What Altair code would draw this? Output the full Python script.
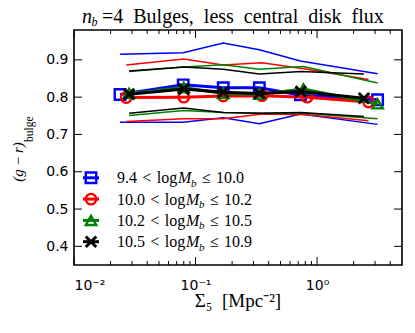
import altair as alt
import pandas as pd

# ---------------- data ----------------
series = ["9.4-10.0", "10.0-10.2", "10.2-10.5", "10.5-10.9"]
colors = ["#0000ff", "#ff0000", "#008000", "#000000"]
shapes = ["square", "circle", "triangle-up", "M-1,-1L1,1M-1,1L1,-1"]

x_blue = [0.0239, 0.0792, 0.169, 0.335, 0.730, 3.15]
x_red = [0.0269, 0.0800, 0.169, 0.352, 0.828, 2.65]
x_green = [0.0284, 0.0800, 0.169, 0.335, 0.773, 3.15]
x_black = [0.0284, 0.0800, 0.169, 0.335, 0.735, 2.43]

blue_hi = [0.915, 0.919, 0.945, 0.927, 0.897, 0.863]
blue_mid = [0.807, 0.833, 0.825, 0.825, 0.806, 0.793]
blue_lo = [0.733, 0.733, 0.745, 0.729, 0.755, 0.727]

red_hi = [0.886, 0.902, 0.886, 0.892, 0.875, 0.847]
red_mid = [0.799, 0.800, 0.803, 0.804, 0.800, 0.787]
red_lo = [0.735, 0.742, 0.742, 0.755, 0.753, 0.737]

green_hi = [0.869, 0.881, 0.887, 0.875, 0.882, 0.838]
green_mid = [0.810, 0.826, 0.810, 0.808, 0.822, 0.782]
green_lo = [0.751, 0.764, 0.759, 0.757, 0.757, 0.742]

black_hi = [0.870, 0.881, 0.875, 0.862, 0.869, 0.862]
black_mid = [0.808, 0.822, 0.813, 0.810, 0.815, 0.797]
black_lo = [0.757, 0.771, 0.759, 0.757, 0.759, 0.748]

SP = "\u2002"   # en space (SVG collapses ordinary double spaces)
S3 = "\u2004"   # three-per-em space
TH = "\u2009"   # thin space
legend_pre = ["9.4" + S3 + "<" + S3 + "log", "10.0" + S3 + "<" + S3 + "log",
              "10.2" + S3 + "<" + S3 + "log", "10.5" + S3 + "<" + S3 + "log"]
legend_post = ["≤" + S3 + "10.0", "≤" + S3 + "10.2",
               "≤" + S3 + "10.5", "≤" + S3 + "10.9"]
title_rest = SP.join(["=4", "Bulges,", "less", "central", "disk", "flux"])
x_title = "Σ₅" + SP + "[Mpc⁻²]"
y_title = "(g" + TH + "−" + TH + "r)"

x_major = [0.01, 0.1, 1.0]
x_minor = [0.02, 0.03, 0.04, 0.05, 0.06, 0.07, 0.08, 0.09,
           0.2, 0.3, 0.4, 0.5, 0.6, 0.7, 0.8, 0.9, 2.0, 3.0, 4.0]
y_major = [0.4, 0.5, 0.6, 0.7, 0.8, 0.9]

# ---------------- layout ----------------
W, H = 328, 235
SERIF = "Liberation Serif"
SANS = "DejaVu Sans"

xs = alt.Scale(type="log", domain=[0.01, 5], nice=False)
ys = alt.Scale(domain=[0.35, 0.98], nice=False, zero=False)

all_x = [x_blue, x_red, x_green, x_black]
all_hi = [blue_hi, red_hi, green_hi, black_hi]
all_mid = [blue_mid, red_mid, green_mid, black_mid]
all_lo = [blue_lo, red_lo, green_lo, black_lo]

layers = []

# axes (labels only) + inward tick marks on all four sides
maj = pd.DataFrame({"v": x_major})
mnr = pd.DataFrame({"v": x_minor})
yt = pd.DataFrame({"v": y_major})

base_x = alt.Chart(maj).mark_point(opacity=0).encode(
    x=alt.X("v:Q", scale=xs, axis=alt.Axis(
        values=x_major, ticks=False, domain=False, grid=False, title=None,
        labelExpr="datum.value < 0.05 ? '10⁻²' : (datum.value < 0.5 ? '10⁻¹' : '10⁰')",
        labelFont=SANS, labelFontSize=14, labelPadding=13, labelColor="black")),
)
base_y = alt.Chart(yt).mark_point(opacity=0).encode(
    y=alt.Y("v:Q", scale=ys, axis=alt.Axis(
        values=y_major, ticks=False, domain=False, grid=False, title=None,
        format=".1f", labelFont=SANS, labelFontSize=14, labelPadding=6,
        labelColor="black")),
)
layers += [base_x, base_y]

for df, ln in [(maj, 8), (mnr, 4)]:
    layers.append(alt.Chart(df).mark_rule(color="black", strokeWidth=1).encode(
        x=alt.X("v:Q", scale=xs), y=alt.value(H), y2=alt.value(H - ln)))
    layers.append(alt.Chart(df).mark_rule(color="black", strokeWidth=1).encode(
        x=alt.X("v:Q", scale=xs), y=alt.value(0), y2=alt.value(ln)))
layers.append(alt.Chart(yt).mark_rule(color="black", strokeWidth=1).encode(
    y=alt.Y("v:Q", scale=ys), x=alt.value(0), x2=alt.value(8)))
layers.append(alt.Chart(yt).mark_rule(color="black", strokeWidth=1).encode(
    y=alt.Y("v:Q", scale=ys), x=alt.value(W), x2=alt.value(W - 8)))

# data series
for i in range(4):
    rows = []
    for band, vals in (("hi", all_hi[i]), ("lo", all_lo[i]), ("mid", all_mid[i])):
        for xv, yv in zip(all_x[i], vals):
            rows.append({"x": xv, "y": yv, "band": band})
    df = pd.DataFrame(rows)
    enc = dict(x=alt.X("x:Q", scale=xs), y=alt.Y("y:Q", scale=ys))
    layers.append(alt.Chart(df).transform_filter("datum.band != 'mid'")
                  .mark_line(color=colors[i], strokeWidth=1.5)
                  .encode(detail="band:N", **enc))
    layers.append(alt.Chart(df).transform_filter("datum.band == 'mid'")
                  .mark_line(color=colors[i], strokeWidth=3).encode(**enc))
    layers.append(alt.Chart(df).transform_filter("datum.band == 'mid'")
                  .mark_point(shape=shapes[i], filled=False, size=110,
                              strokeWidth=3 if i == 3 else 2.4, color=colors[i],
                              opacity=1)
                  .encode(**enc))

one = alt.Data(values=[{}])


def txt(s, x, y, size, font=SERIF, style="normal", angle=0, align="left"):
    return alt.Chart(one).mark_text(
        text=s, font=font, fontSize=size, fontStyle=style, angle=angle,
        align=align, baseline="alphabetic", color="black").encode(
        x=alt.value(x), y=alt.value(y))


# legend
row_y = [147.8, 169.1, 190.4, 211.7]
for i in range(4):
    ly = row_y[i]
    layers.append(alt.Chart(one).mark_rule(color=colors[i], strokeWidth=3).encode(
        x=alt.value(9), x2=alt.value(25), y=alt.value(ly)))
    layers.append(alt.Chart(one).mark_point(
        shape=shapes[i], filled=False, size=110,
        strokeWidth=3 if i == 3 else 2.4, color=colors[i], opacity=1).encode(
        x=alt.value(17), y=alt.value(ly)))
    x0 = 43
    mx = x0 + (61 if i == 0 else 69)
    layers.append(txt(legend_pre[i], x0, ly + 5.5, 16))
    layers.append(txt("M", mx, ly + 5.5, 16, style="italic"))
    layers.append(txt("b", mx + 13, ly + 9, 11, style="italic"))
    layers.append(txt(legend_post[i], mx + 24, ly + 5.5, 16))

# title
layers.append(txt("n", 8, -7.5, 20, style="italic"))
layers.append(txt("b", 17.5, -4, 12, style="italic"))
layers.append(txt(title_rest, 28, -7.5, 20))

# x-axis title
layers.append(txt(x_title, 164, 276.5, 19, align="center"))

# y-axis title
layers.append(txt(y_title, -51, 151.7, 15, style="italic", angle=270))
layers.append(txt("bulge", -41, 112, 11.5, angle=270))

chart = alt.layer(*layers).properties(
    width=W, height=H, autosize="none",
    padding={"left": 66, "top": 22, "right": 4, "bottom": 55},
).configure_view(stroke="black", strokeWidth=1.6)

chart.save("out.html", embed_options={"renderer": "svg", "actions": False})
